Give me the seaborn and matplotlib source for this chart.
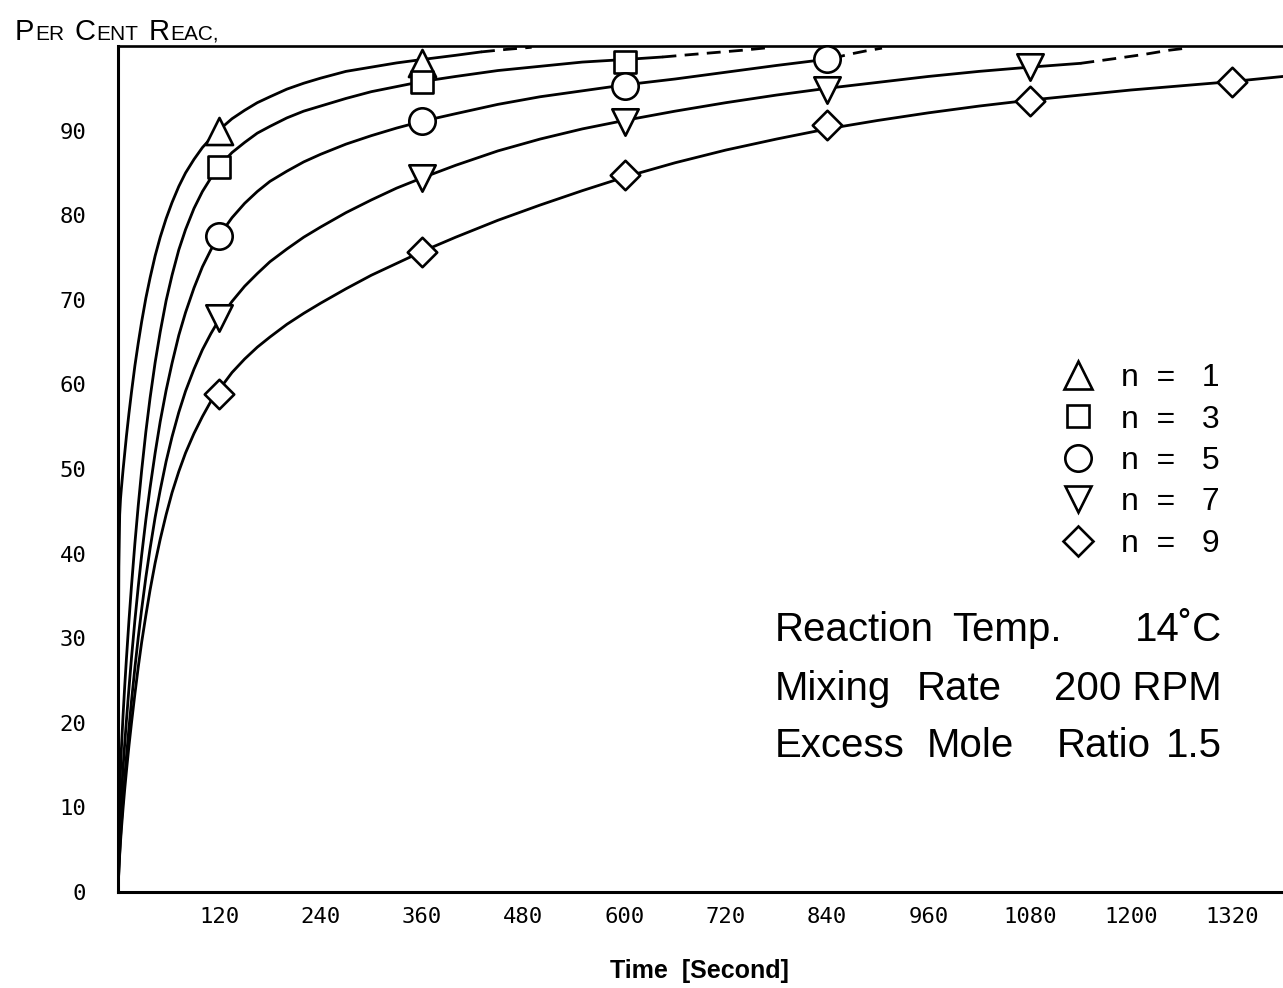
import numpy as np
import pandas as pd
import matplotlib
matplotlib.use("Agg")
import matplotlib.pyplot as plt
from matplotlib.lines import Line2D
from matplotlib import font_manager
import seaborn as sns

# ---------------- data ----------------
sample_times = [120, 360, 600, 840, 1080, 1320]
series_names = ["n=1", "n=3", "n=5", "n=7", "n=9"]
legend_labels = ["n  =   1", "n  =   3", "n  =   5", "n  =   7", "n  =   9"]

# measured points (markers)
pts_n1 = [90.0, 98.0]
pts_n3 = [85.7, 95.8, 98.1]
pts_n5 = [77.6, 91.1, 95.3, 98.5]
pts_n7 = [67.9, 84.4, 91.0, 94.8, 97.5]
pts_n9 = [58.9, 75.7, 84.8, 90.7, 93.5, 95.7]

# drawn curves (solid part)
curve_n1_t = [0, 0.5, 1, 2, 3, 4, 6, 8, 10, 13, 16, 20, 24, 28, 33, 38, 44, 50, 57, 64, 72, 80,
              90, 100, 110, 120, 135, 150, 165, 180, 200, 220, 240, 270, 300, 330, 360, 400, 430]
curve_n1_v = [0, 27.8, 38.4, 44.6, 46.5, 47.7, 49.9, 51.9, 53.9, 56.6, 59.1, 62.2, 64.9, 67.4,
              70.2, 72.6, 75.2, 77.4, 79.6, 81.5, 83.4, 85.0, 86.6, 88.0, 89.1, 90.1, 91.4, 92.4,
              93.3, 94.0, 94.9, 95.6, 96.2, 97.0, 97.5, 98.0, 98.4, 98.9, 99.3]

curve_n3_t = [0, 0.5, 1, 2, 3, 4, 6, 8, 10, 13, 16, 20, 24, 28, 33, 38, 44, 50, 57, 64, 72, 80,
              90, 100, 110, 120, 135, 150, 165, 180, 200, 220, 240, 270, 300, 330, 360, 400, 450,
              500, 550, 600, 645]
curve_n3_v = [0, 3.8, 6.9, 11.3, 14.4, 16.9, 20.9, 24.4, 27.6, 32.1, 36.2, 41.2, 45.7, 49.8,
              54.4, 58.4, 62.6, 66.2, 69.9, 72.9, 75.9, 78.3, 80.8, 82.8, 84.4, 85.8, 87.4, 88.6,
              89.7, 90.5, 91.5, 92.3, 92.9, 93.8, 94.6, 95.2, 95.8, 96.4, 97.1, 97.6, 98.1, 98.4, 98.7]

curve_n5_t = [0, 0.5, 1, 2, 3, 4, 6, 8, 10, 13, 16, 20, 24, 28, 33, 38, 44, 50, 57, 64, 72, 80,
              90, 100, 110, 120, 135, 150, 165, 180, 200, 220, 240, 270, 300, 330, 360, 400, 450,
              500, 550, 600, 660, 720, 780, 845]
curve_n5_v = [0, 2.1, 3.9, 6.9, 9.3, 11.3, 14.7, 17.6, 20.3, 24.1, 27.7, 32.1, 36.1, 39.8, 44.0,
              47.8, 51.9, 55.6, 59.3, 62.5, 65.8, 68.5, 71.4, 73.9, 75.9, 77.6, 79.7, 81.4, 82.8,
              84.0, 85.2, 86.3, 87.2, 88.4, 89.4, 90.3, 91.1, 92.0, 93.1, 94.0, 94.7, 95.4, 96.1,
              96.9, 97.7, 98.5]

curve_n7_t = [0, 0.5, 1, 2, 3, 4, 6, 8, 10, 13, 16, 20, 24, 28, 33, 38, 44, 50, 57, 64, 72, 80,
              90, 100, 110, 120, 135, 150, 165, 180, 200, 220, 240, 270, 300, 330, 360, 400, 450,
              500, 550, 600, 660, 720, 780, 840, 900, 960, 1020, 1080, 1140]
curve_n7_v = [0, 1.4, 2.6, 4.7, 6.5, 8.1, 11.0, 13.6, 16.0, 19.4, 22.6, 26.5, 30.1, 33.4, 37.2,
              40.6, 44.3, 47.5, 50.9, 53.8, 56.7, 59.2, 61.8, 64.1, 66.0, 67.7, 69.8, 71.6, 73.1,
              74.5, 76.0, 77.4, 78.6, 80.3, 81.8, 83.2, 84.4, 85.9, 87.6, 89.0, 90.2, 91.2, 92.3,
              93.3, 94.2, 95.0, 95.7, 96.4, 97.0, 97.5, 97.95]

curve_n9_t = [0, 0.5, 1, 2, 3, 4, 6, 8, 10, 13, 16, 20, 24, 28, 33, 38, 44, 50, 57, 64, 72, 80,
              90, 100, 110, 120, 135, 150, 165, 180, 200, 220, 240, 270, 300, 330, 360, 400, 450,
              500, 550, 600, 660, 720, 780, 840, 900, 960, 1020, 1080, 1140, 1200, 1260, 1320, 1380]
curve_n9_v = [0, 1.3, 2.4, 4.4, 6.0, 7.4, 9.9, 12.2, 14.3, 17.3, 20.0, 23.4, 26.6, 29.5, 32.7,
              35.7, 38.9, 41.7, 44.6, 47.2, 49.7, 51.9, 54.2, 56.2, 58.0, 59.4, 61.4, 63.0, 64.4,
              65.6, 67.1, 68.4, 69.6, 71.3, 72.9, 74.3, 75.7, 77.4, 79.4, 81.2, 82.9, 84.5, 86.2,
              87.7, 89.0, 90.2, 91.2, 92.1, 92.9, 93.6, 94.2, 94.8, 95.3, 95.8, 96.4]

# dashed extensions up to 100 %
dash_n1_t = [430, 460, 490]
dash_n1_v = [99.3, 99.6, 99.85]
dash_n3_t = [645, 680, 710, 740, 770]
dash_n3_v = [98.7, 99.0, 99.25, 99.5, 99.8]
dash_n5_t = [845, 865, 885, 905]
dash_n5_v = [98.5, 99.0, 99.4, 99.75]
dash_n7_t = [1140, 1180, 1215, 1245, 1270]
dash_n7_v = [97.95, 98.5, 99.0, 99.5, 99.8]

x_ticks = [120, 240, 360, 480, 600, 720, 840, 960, 1080, 1200, 1320]
y_ticks = [0, 10, 20, 30, 40, 50, 60, 70, 80, 90]

# ---------------- assemble tables ----------------
points = {"n=1": pts_n1, "n=3": pts_n3, "n=5": pts_n5, "n=7": pts_n7, "n=9": pts_n9}
solid_curves = {
    "n=1": (curve_n1_t, curve_n1_v),
    "n=3": (curve_n3_t, curve_n3_v),
    "n=5": (curve_n5_t, curve_n5_v),
    "n=7": (curve_n7_t, curve_n7_v),
    "n=9": (curve_n9_t, curve_n9_v),
}
dashed_curves = {
    "n=1": (dash_n1_t, dash_n1_v),
    "n=3": (dash_n3_t, dash_n3_v),
    "n=5": (dash_n5_t, dash_n5_v),
    "n=7": (dash_n7_t, dash_n7_v),
}

def to_frame(d):
    rows = []
    for name, (ts, vs) in d.items():
        for t, v in zip(ts, vs):
            rows.append({"series": name, "t": t, "v": v})
    return pd.DataFrame(rows)

solid_df = to_frame(solid_curves)
dashed_df = to_frame(dashed_curves)

# ---------------- styling ----------------
sns.set_style("white")
plt.rcParams["font.family"] = ["DejaVu Sans"]
plt.rcParams["text.color"] = "black"
plt.rcParams["axes.labelcolor"] = "black"
plt.rcParams["xtick.color"] = "black"
plt.rcParams["ytick.color"] = "black"
plt.rcParams["lines.solid_joinstyle"] = "round"
plt.rcParams["lines.solid_capstyle"] = "round"

available = {f.name for f in font_manager.fontManager.ttflist}
sans = "Liberation Sans" if "Liberation Sans" in available else "DejaVu Sans"
narrow = "Liberation Sans Narrow" if "Liberation Sans Narrow" in available else sans
mono = "DejaVu Sans Mono"

W, H = 1283, 988
fig = plt.figure(figsize=(W / 100, H / 100), dpi=100)
fig.patch.set_facecolor("white")
ax = fig.add_axes([118 / W, 96 / H, 1165 / W, 846 / H])
ax.set_facecolor("white")

marker_style = {
    "n=1": ("^", 19.5),
    "n=3": ("s", 16.0),
    "n=5": ("o", 19.0),
    "n=7": ("v", 19.0),
    "n=9": ("D", 15.0),
}
LW = 2.0
EW = 1.9

sns.lineplot(data=solid_df, x="t", y="v", units="series", estimator=None, sort=False,
             color="black", linewidth=LW, ax=ax, legend=False)
sns.lineplot(data=dashed_df, x="t", y="v", units="series", estimator=None, sort=False,
             color="black", linewidth=LW, linestyle=(0, (5, 3)), ax=ax, legend=False)

for name in series_names:
    vals = points[name]
    m, ms = marker_style[name]
    sns.scatterplot(x=sample_times[:len(vals)], y=vals, marker=m, s=ms ** 2,
                    color="white", edgecolor="black", linewidth=EW, zorder=5,
                    ax=ax, legend=False, clip_on=False)

ax.set_xlim(0, 1380)
ax.set_ylim(0, 100)
ax.set_xticks(x_ticks, labels=[str(v) for v in x_ticks], fontfamily=mono, fontsize=16)
ax.set_yticks(y_ticks, labels=[str(v) for v in y_ticks], fontfamily=mono, fontsize=16)
ax.tick_params(axis="x", direction="in", length=10.5, width=1.8, pad=11)
ax.tick_params(axis="y", direction="out", length=10.8, width=1.8, pad=12)
for side in ["left", "bottom", "top"]:
    ax.spines[side].set_visible(True)
    ax.spines[side].set_color("black")
    ax.spines[side].set_linewidth(2.2)
ax.spines["top"].set_linewidth(1.9)
ax.spines["right"].set_visible(False)

ax.set_xlabel("Time  [Second]", fontfamily=sans, fontweight="bold", fontsize=18)
ax.xaxis.set_label_coords((699 - 118) / 1165, (892 - 978) / 846)
ax.xaxis.label.set_va("baseline")
ax.set_ylabel("")

# legend
handles = []
for name in series_names:
    m, ms = marker_style[name]
    handles.append(Line2D([], [], marker=m, linestyle="none", markersize=ms,
                          markerfacecolor="white", markeredgecolor="black",
                          markeredgewidth=EW))
ax.legend(handles, legend_labels, loc="upper left",
          bbox_to_anchor=(1062 / W, 1 - 363 / H), bbox_transform=fig.transFigure,
          frameon=False, borderpad=0, borderaxespad=0, handlelength=1.0,
          handletextpad=0.84, labelspacing=0.36,
          prop={"family": sans, "size": 23})

# condition block
def ftext(x, y, s, ha="left", size=29):
    fig.text(x / W, 1 - y / H, s, ha=ha, va="baseline", fontsize=size, fontfamily=sans)

ftext(775, 641, "Reaction")
ftext(952, 641, "Temp.")
ftext(1222, 641, "14˚C", ha="right")
ftext(775, 700, "Mixing")
ftext(917, 700, "Rate")
ftext(1222, 700, "200 RPM", ha="right")
ftext(775, 757, "Excess")
ftext(927, 757, "Mole")
ftext(1057, 757, "Ratio")
ftext(1222, 757, "1.5", ha="right")

# y-axis title in small capitals: "Per Cent Reac,"
renderer = fig.canvas.get_renderer()
big, small = (24, 17) if narrow != sans else (21, 15)
pieces = [("P", big, 0), ("ER", small, 9), ("C", big, 0), ("ENT", small, 9),
          ("R", big, 0), ("EAC,", small, 0)]
xp = 15
for s, fs, gap in pieces:
    t = fig.text(xp / W, 1 - 40 / H, s, fontsize=fs, fontfamily=narrow,
                 va="baseline", ha="left")
    bb = t.get_window_extent(renderer=renderer)
    xp += bb.width + 1 + gap

fig.savefig("out.png", dpi=100, facecolor="white")
